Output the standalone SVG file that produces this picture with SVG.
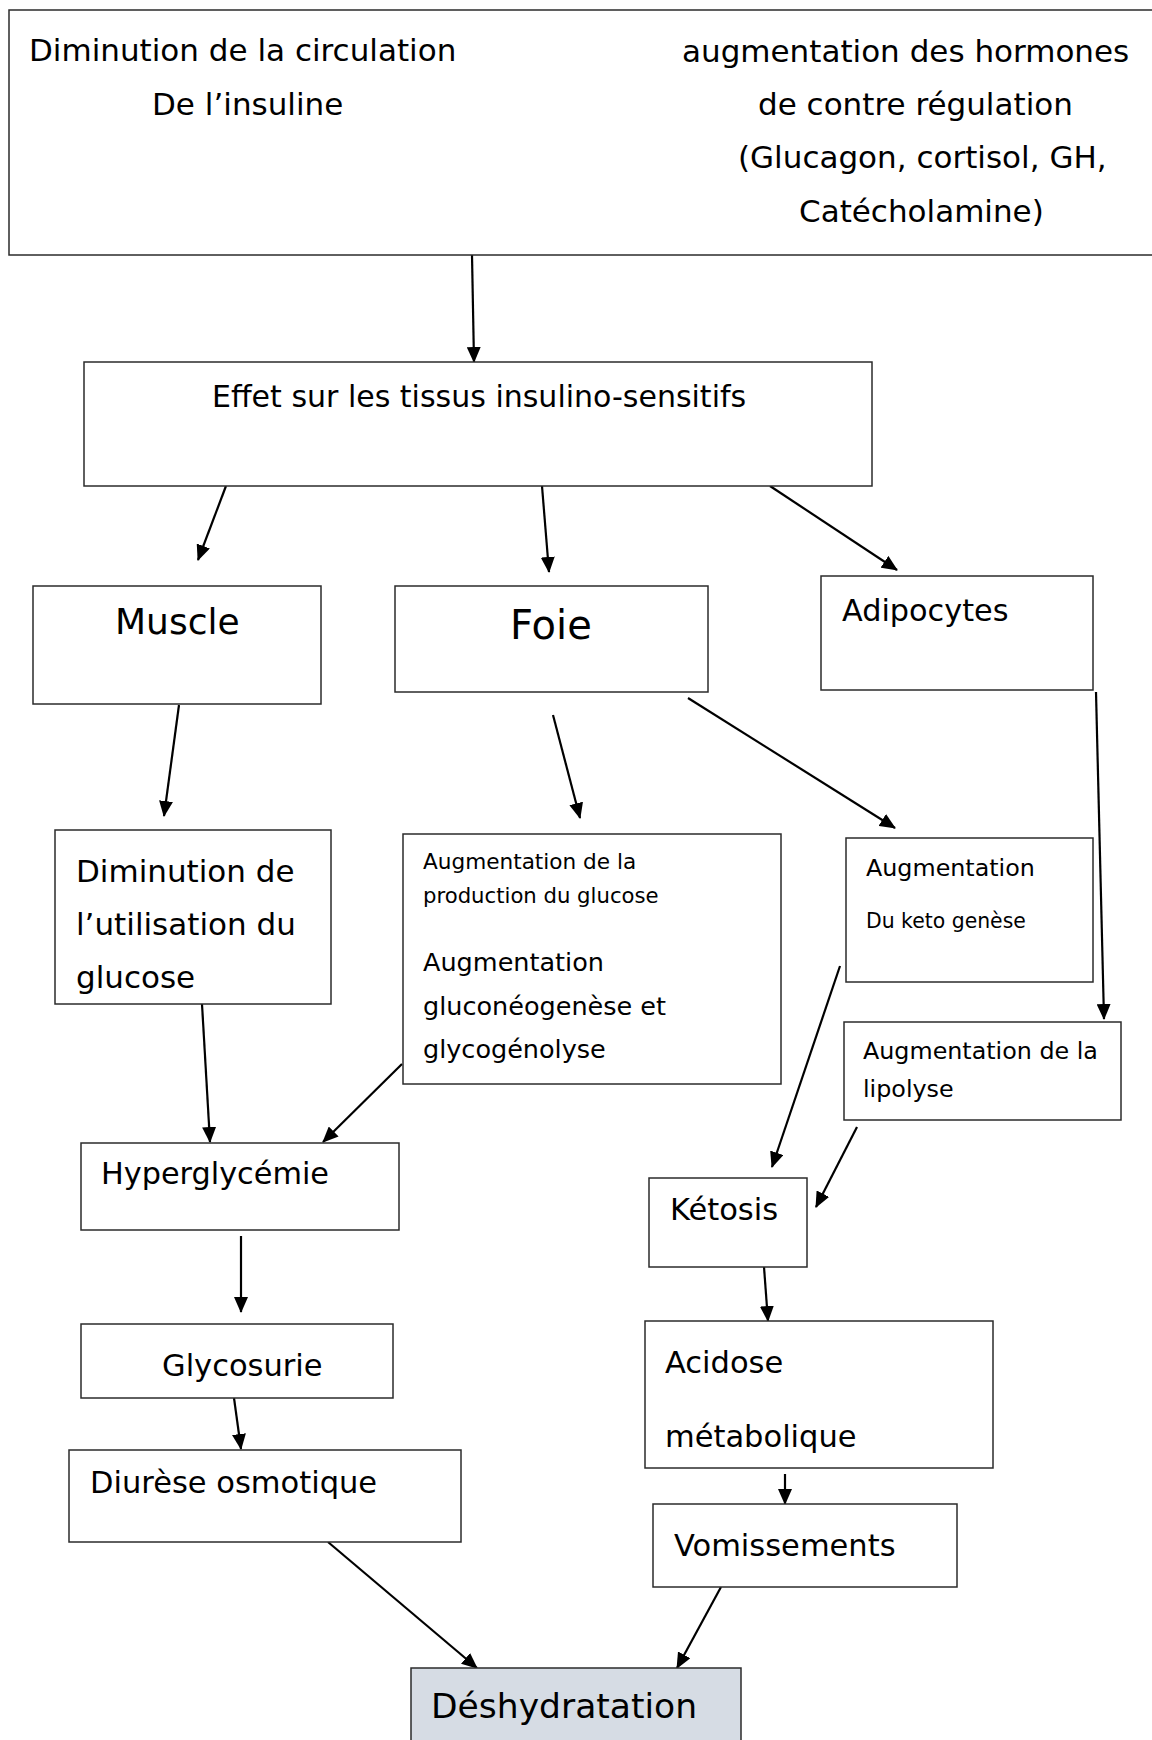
<svg xmlns="http://www.w3.org/2000/svg" width="1152" height="1740" viewBox="0 0 1152 1740">
<style>
.box{fill:#ffffff;stroke:#2b2b2b;stroke-width:1.5}
.shade{fill:#d6dce4;stroke:#2b2b2b;stroke-width:1.5}
.t{font-family:"DejaVu Sans","Liberation Sans",sans-serif;fill:#000}
.cn{stroke:#000;stroke-width:2.2;fill:none;marker-end:url(#ah)}
</style>
<defs>
<marker id="ah" markerUnits="userSpaceOnUse" markerWidth="16" markerHeight="14" refX="15" refY="7" orient="auto">
<path d="M0,0 L16,7 L0,14 z" fill="#000"/>
</marker>
</defs>
<rect width="1152" height="1740" fill="#fff"/>
<g id="connectors">
<line class="cn" x1="472" y1="255" x2="474" y2="362"/>
<line class="cn" x1="226" y1="486" x2="198" y2="560"/>
<line class="cn" x1="542" y1="486" x2="549" y2="572"/>
<line class="cn" x1="770" y1="486" x2="897" y2="570"/>
<line class="cn" x1="179" y1="705" x2="164" y2="816"/>
<line class="cn" x1="553" y1="715" x2="580" y2="818"/>
<line class="cn" x1="688" y1="698" x2="895" y2="828"/>
<line class="cn" x1="1096" y1="692" x2="1104" y2="1019"/>
<line class="cn" x1="202" y1="1004" x2="210" y2="1142"/>
<line class="cn" x1="402" y1="1064" x2="323" y2="1142"/>
<line class="cn" x1="840" y1="966" x2="772" y2="1167"/>
<line class="cn" x1="857" y1="1127" x2="816" y2="1207"/>
<line class="cn" x1="241" y1="1236" x2="241" y2="1312"/>
<line class="cn" x1="764" y1="1267" x2="768" y2="1321"/>
<line class="cn" x1="234" y1="1398" x2="241" y2="1449"/>
<line class="cn" x1="785" y1="1474" x2="785" y2="1504"/>
<line class="cn" x1="328" y1="1542" x2="477" y2="1668"/>
<line class="cn" x1="721" y1="1587" x2="677" y2="1668"/>
</g>
<g id="n-top">
<rect class="box" x="9" y="10" width="1150" height="245"/>
<text class="t" font-size="31" x="29" y="61">Diminution de la circulation</text>
<text class="t" font-size="31" x="152" y="115">De l’insuline</text>
<text class="t" font-size="31" x="682" y="62">augmentation des hormones</text>
<text class="t" font-size="31" x="758" y="115">de contre régulation</text>
<text class="t" font-size="31" x="738" y="168">(Glucagon, cortisol, GH,</text>
<text class="t" font-size="31" x="799" y="222">Catécholamine)</text>
</g>
<g id="n-effet">
<rect class="box" x="84" y="362" width="788" height="124"/>
<text class="t" font-size="30" x="212" y="407">Effet sur les tissus insulino-sensitifs</text>
</g>
<g id="n-muscle">
<rect class="box" x="33" y="586" width="288" height="118"/>
<text class="t" font-size="36" x="115" y="634">Muscle</text>
</g>
<g id="n-foie">
<rect class="box" x="395" y="586" width="313" height="106"/>
<text class="t" font-size="40" x="510" y="639">Foie</text>
</g>
<g id="n-adipo">
<rect class="box" x="821" y="576" width="272" height="114"/>
<text class="t" font-size="30.3" x="842" y="621">Adipocytes</text>
</g>
<g id="n-dimin">
<rect class="box" x="55" y="830" width="276" height="174"/>
<text class="t" font-size="31" x="76" y="882">Diminution de</text>
<text class="t" font-size="31" x="76" y="935">l’utilisation du</text>
<text class="t" font-size="31" x="76" y="988">glucose</text>
</g>
<g id="n-prod">
<rect class="box" x="403" y="834" width="378" height="250"/>
<text class="t" font-size="21.6" x="423" y="869">Augmentation de la</text>
<text class="t" font-size="21.2" x="423" y="903">production du glucose</text>
<text class="t" font-size="25.5" x="423" y="971">Augmentation</text>
<text class="t" font-size="25.5" x="423" y="1015">gluconéogenèse et</text>
<text class="t" font-size="25.5" x="423" y="1058">glycogénolyse</text>
</g>
<g id="n-keto">
<rect class="box" x="846" y="838" width="247" height="144"/>
<text class="t" font-size="23.8" x="866" y="876">Augmentation</text>
<text class="t" font-size="20.4" x="866" y="928">Du keto genèse</text>
</g>
<g id="n-lipo">
<rect class="box" x="844" y="1022" width="277" height="98"/>
<text class="t" font-size="23.8" x="863" y="1059">Augmentation de la</text>
<text class="t" font-size="23.8" x="863" y="1097">lipolyse</text>
</g>
<g id="n-hyper">
<rect class="box" x="81" y="1143" width="318" height="87"/>
<text class="t" font-size="30.3" x="101" y="1184">Hyperglycémie</text>
</g>
<g id="n-ketosis">
<rect class="box" x="649" y="1178" width="158" height="89"/>
<text class="t" font-size="30.5" x="670" y="1220">Kétosis</text>
</g>
<g id="n-glyco">
<rect class="box" x="81" y="1324" width="312" height="74"/>
<text class="t" font-size="30.5" x="162" y="1376">Glycosurie</text>
</g>
<g id="n-acidose">
<rect class="box" x="645" y="1321" width="348" height="147"/>
<text class="t" font-size="30.5" x="665" y="1373">Acidose</text>
<text class="t" font-size="30.5" x="665" y="1447">métabolique</text>
</g>
<g id="n-diurese">
<rect class="box" x="69" y="1450" width="392" height="92"/>
<text class="t" font-size="30.5" x="90" y="1493">Diurèse osmotique</text>
</g>
<g id="n-vomis">
<rect class="box" x="653" y="1504" width="304" height="83"/>
<text class="t" font-size="30.5" x="674" y="1556">Vomissements</text>
</g>
<g id="n-deshyd">
<rect class="shade" x="411" y="1668" width="330" height="92"/>
<text class="t" font-size="34.5" x="431" y="1718">Déshydratation</text>
</g>
</svg>
